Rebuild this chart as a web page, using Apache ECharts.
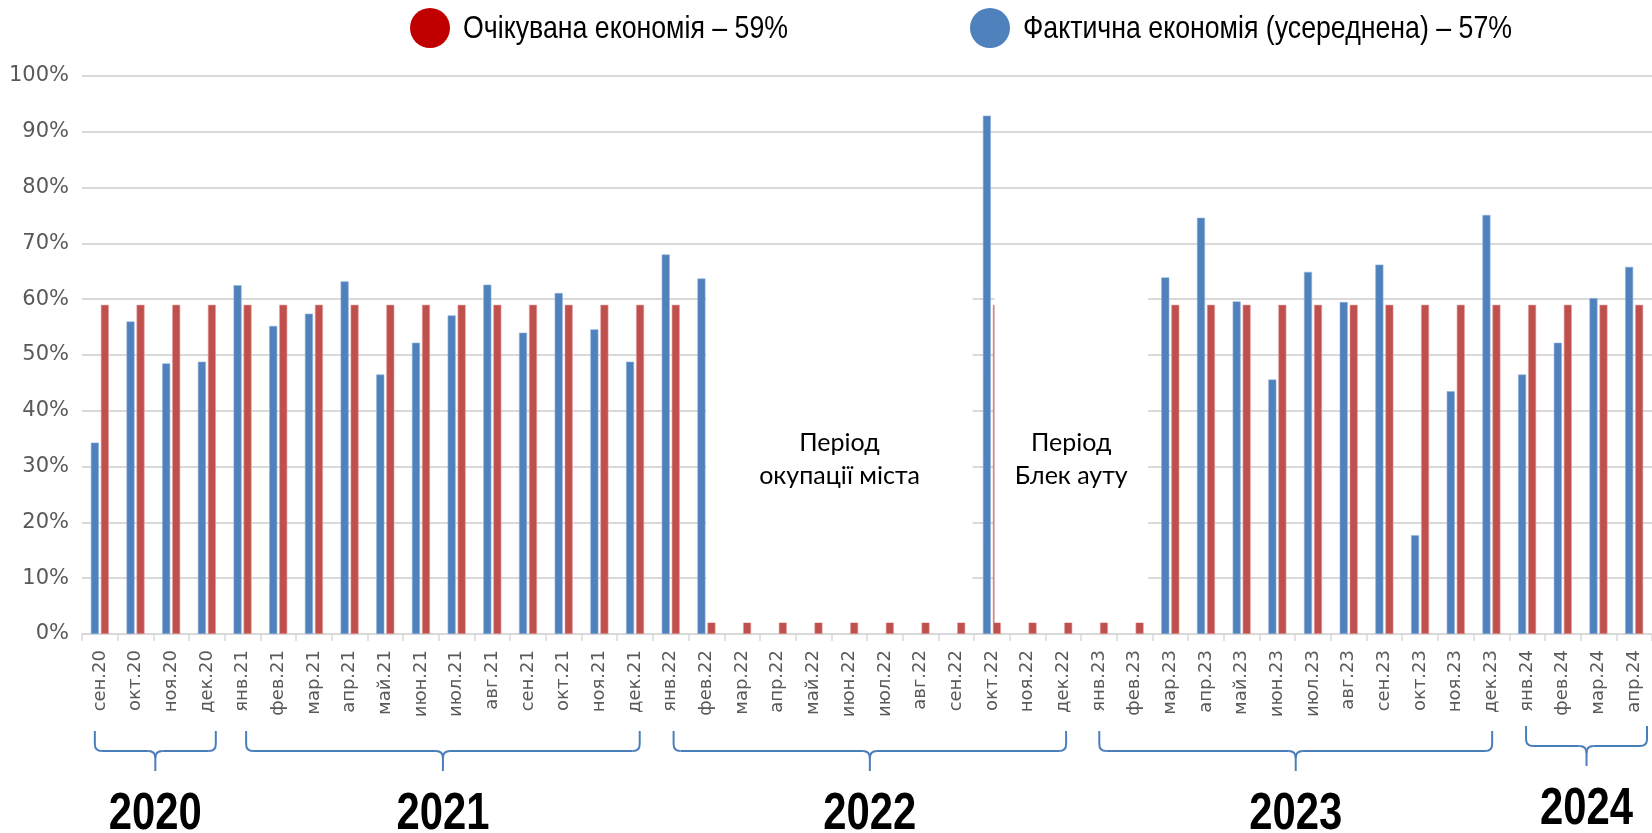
<!DOCTYPE html>
<html>
<head>
<meta charset="utf-8">
<script src="https://cdn.jsdelivr.net/npm/echarts@6/dist/echarts.min.js"></script>
<style>html,body{margin:0;padding:0;background:#fff}#c{width:1652px;height:833px}</style>
</head>
<body>
<div id="c"></div>
<script>
const categories = ['сен.20','окт.20','ноя.20','дек.20',
  'янв.21','фев.21','мар.21','апр.21','май.21','июн.21','июл.21','авг.21','сен.21','окт.21','ноя.21','дек.21',
  'янв.22','фев.22','мар.22','апр.22','май.22','июн.22','июл.22','авг.22','сен.22','окт.22','ноя.22','дек.22',
  'янв.23','фев.23','мар.23','апр.23','май.23','июн.23','июл.23','авг.23','сен.23','окт.23','ноя.23','дек.23',
  'янв.24','фев.24','мар.24','апр.24'];

const actualSaving = [34.3,56.0,48.5,48.8,
  62.5,55.2,57.4,63.2,46.5,52.2,57.1,62.6,54.0,61.1,54.6,48.8,
  68.0,63.7,null,null,null,null,null,null,null,92.9,null,null,
  null,null,63.9,74.6,59.6,45.6,64.9,59.5,66.2,17.7,43.5,75.1,
  46.5,52.2,60.2,65.8];

const expectedSaving = [59,59,59,59,
  59,59,59,59,59,59,59,59,59,59,59,59,
  59,59,59,59,59,59,59,59,59,59,59,59,
  59,59,59,59,59,59,59,59,59,59,59,59,
  59,59,59,59];

const yTicks = [0,10,20,30,40,50,60,70,80,90,100];

const nameExpected = 'Очікувана економія – 59%';
const nameActual = 'Фактична економія (усереднена) – 57%';

const years = ['2020','2021','2022','2023','2024'];
const yearFirst = ['сен.20','янв.21','янв.22','янв.23','янв.24'];
const yearLast = ['дек.20','дек.21','дек.22','дек.23','апр.24'];

const notes = ['Період\nокупації міста','Період\nБлек ауту'];

// layout constants (category-width fractions for brace ends)
const bracePadL = [-0.14, 0.10, 0.08, 0.01, -0.03];
const bracePadR = [0.25, 0.13, 0.08, 0.02, 0.36];

const chart = echarts.init(document.getElementById('c'), null, {renderer:'canvas'});
const option = {
  animation: false,
  backgroundColor: '#fff',
  grid: {left: 82, right: -1, top: 76, bottom: 199, containLabel: false},
  xAxis: {
    type: 'category',
    data: categories,
    axisLine: {lineStyle: {color: '#d9d9d9', width: 1.5}},
    axisTick: {show: true, length: 7, lineStyle: {color: '#d9d9d9', width: 1.5}},
    axisLabel: {interval: 0, rotate: 90, margin: 16, fontFamily: 'DejaVu Sans', fontSize: 18, color: '#595959'}
  },
  yAxis: {
    type: 'value', min: yTicks[0], max: yTicks[yTicks.length-1], interval: 10,
    axisLine: {show: false}, axisTick: {show: false},
    splitLine: {lineStyle: {color: '#d9d9d9', width: 2}},
    axisLabel: {formatter: '{value}%', margin: 13, fontFamily: 'DejaVu Sans', fontSize: 21, color: '#595959'}
  },
  series: [
    {name: nameActual, type: 'bar', data: actualSaving, barGap: '25%', barCategoryGap: '49.5%',
     itemStyle: {color: '#4f81bd', borderColor: '#8db0dc', borderWidth: 0.6}, z: 2},
    {name: nameExpected, type: 'bar', data: expectedSaving,
     itemStyle: {color: '#c0504d', borderColor: '#e0a09e', borderWidth: 0.6}, z: 2}
  ]
};
chart.setOption(option);

function cx(name){ return chart.convertToPixel({xAxisIndex:0}, categories.indexOf(name)); }
function vy(v){ return chart.convertToPixel({yAxisIndex:0}, v); }
const w = cx(categories[1]) - cx(categories[0]);

const g = [];
// legend (drawn as graphic for exact one-line layout)
const legendItems = [
  {name: nameExpected, color: '#c00000', x: 430},
  {name: nameActual, color: '#4f81bd', x: 990}
];
legendItems.forEach(it => {
  g.push({type:'circle', z:60, silent:true, shape:{cx: it.x, cy: 28, r: 20}, style:{fill: it.color}});
  g.push({type:'text', z:60, silent:true, x: it.x + 33, y: 29, scaleX: 0.835,
    style:{text: it.name, fontFamily:"'Liberation Sans',Arial,sans-serif", fontSize: 32, fill:'#000', align:'left', verticalAlign:'middle'}});
});

const stroke = {stroke: '#4a7ebb', lineWidth: 2, fill: null};
// white masking boxes
const boxes = [
  [cx('фев.22'), cx('окт.22') - 0.54*w],
  [cx('окт.22') + 0.07*w, cx('мар.23') - 0.62*w]
];
const boxTop = vy(61.5), boxBot = vy(2);
boxes.forEach((b, i) => {
  g.push({type:'rect', z: 50, silent: true, shape:{x:b[0], y:boxTop, width:b[1]-b[0], height:boxBot-boxTop}, style:{fill:'#fff'}});
  g.push({type:'text', z: 60, silent: true, x:(b[0]+b[1])/2, y: vy(31.2),
    style:{text: notes[i], fontFamily:'Lato', fontSize:25, lineHeight:33, fill:'#000', align:'center', verticalAlign:'middle'}});
});
// braces and year labels
years.forEach((yr, i) => {
  const x1 = cx(yearFirst[i]) + bracePadL[i]*w;
  const x2 = cx(yearLast[i]) + bracePadR[i]*w;
  const c = (x1 + x2) / 2;
  const d = (i === years.length-1) ? -5 : 0;
  const top = 731 + d, bar = 751 + d, pt = 771 + d, r = 7;
  const L = (a,b,c2,d2) => g.push({type:'line', z:60, silent:true, shape:{x1:a,y1:b,x2:c2,y2:d2}, style: stroke});
  const Q = (a,b,c2,d2,e,f) => g.push({type:'bezierCurve', z:60, silent:true, shape:{x1:a,y1:b,x2:c2,y2:d2,cpx1:e,cpy1:f}, style: stroke});
  L(x1, top, x1, bar - r);
  Q(x1, bar - r, x1 + r, bar, x1, bar);
  L(x1 + r, bar, c - r, bar);
  Q(c - r, bar, c, bar + r, c, bar);
  Q(c + r, bar, c, bar + r, c, bar);
  L(c, bar + r, c, pt);
  L(c + r, bar, x2 - r, bar);
  Q(x2 - r, bar, x2, bar - r, x2, bar);
  L(x2, bar - r, x2, top);
  g.push({type:'text', z:60, silent:true, x:c, y: 815 + d, scaleX: 0.82,
    style:{text: yr, fontFamily:"'Liberation Sans',Arial,sans-serif", fontWeight:'bold', fontSize:51, fill:'#000', align:'center', verticalAlign:'middle'}});
});
chart.setOption({graphic: g});
</script>
</body>
</html>
